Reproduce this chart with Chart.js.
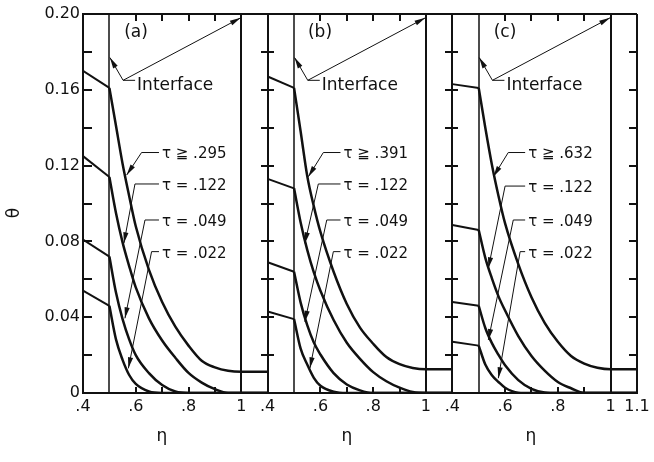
<!DOCTYPE html>
<html>
<head>
<meta charset="utf-8">
<script src="https://cdn.jsdelivr.net/npm/chart.js@4.4.1/dist/chart.umd.min.js"></script>
<style>
  html, body { margin: 0; padding: 0; background: #fff; }
</style>
</head>
<body>
<canvas id="myChart" width="654" height="462"></canvas>
<script>
// eta grid: inner region (.4 to the interface) and outer region (interface to 1.1)
const innerEta = [0.4, 0.5];
const outerEta = [0.5, 0.525, 0.55, 0.575, 0.6, 0.65, 0.7, 0.75, 0.8, 0.85, 0.9, 0.95, 1.0, 1.1];

const tauA = ['τ ≧ .295', 'τ = .122', 'τ = .049', 'τ = .022'];
const tauB = ['τ ≧ .391', 'τ = .122', 'τ = .049', 'τ = .022'];
const tauC = ['τ ≧ .632', 'τ = .122', 'τ = .049', 'τ = .022'];

// theta at eta = .4 and .5, one row per tau (steady first)
const innerA = [[0.170, 0.161], [0.125, 0.114], [0.081, 0.072], [0.054, 0.046]];
const innerB = [[0.167, 0.161], [0.113, 0.108], [0.069, 0.064], [0.043, 0.039]];
const innerC = [[0.163, 0.161], [0.0887, 0.086], [0.048, 0.046], [0.027, 0.025]];

// theta on outerEta, one row per tau
const outerA = [
  [0.161, 0.141, 0.121, 0.104, 0.088, 0.065, 0.048, 0.035, 0.025, 0.017, 0.0135, 0.0117, 0.0112, 0.0112],
  [0.114, 0.095, 0.0795, 0.067, 0.0557, 0.0394, 0.0277, 0.0186, 0.0106, 0.0055, 0.002, 0, 0, 0],
  [0.072, 0.053, 0.039, 0.0283, 0.020, 0.0105, 0.0042, 0.0008, 0, 0, 0, 0, 0, 0],
  [0.046, 0.0283, 0.0175, 0.0095, 0.0048, 0.0008, 0, 0, 0, 0, 0, 0, 0, 0],
];
const outerB = [
  [0.161, 0.138, 0.1145, 0.0985, 0.085, 0.064, 0.047, 0.0345, 0.026, 0.019, 0.0152, 0.0132, 0.0125, 0.0125],
  [0.108, 0.090, 0.0755, 0.0636, 0.054, 0.0385, 0.0265, 0.018, 0.011, 0.0062, 0.0028, 0.0005, 0, 0],
  [0.064, 0.0477, 0.0358, 0.0266, 0.0203, 0.0105, 0.0045, 0.0014, 0, 0, 0, 0, 0, 0],
  [0.039, 0.0234, 0.015, 0.008, 0.0038, 0.0007, 0, 0, 0, 0, 0, 0, 0, 0],
];
const outerC = [
  [0.161, 0.140, 0.1205, 0.104, 0.0895, 0.068, 0.0505, 0.037, 0.027, 0.0195, 0.0155, 0.0133, 0.0125, 0.0125],
  [0.086, 0.0713, 0.0605, 0.051, 0.0435, 0.030, 0.0195, 0.0118, 0.0058, 0.0025, 0, 0, 0, 0],
  [0.046, 0.0343, 0.0263, 0.0201, 0.0146, 0.0068, 0.0022, 0.0003, 0, 0, 0, 0, 0, 0],
  [0.025, 0.015, 0.0094, 0.0058, 0.0028, 0.0002, 0, 0, 0, 0, 0, 0, 0, 0],
];

const INK = '#111';
const FAMILY = '"DejaVu Sans", sans-serif';

// label leaders: [text end, elbow, arrow tip] in (eta, theta)
const panels = [
  {
    axis: 'xa', name: '(a)', tau: tauA,
    leaders: [
      [[0.688, 0.1269], [0.622, 0.1269], [0.5655, 0.115]],
      [[0.688, 0.1103], [0.597, 0.1103], [0.555, 0.079]],
      [[0.688, 0.0913], [0.635, 0.0913], [0.559, 0.0394]],
      [[0.688, 0.0746], [0.660, 0.0746], [0.572, 0.013]],
    ],
  },
  {
    axis: 'xb', name: '(b)', tau: tauB,
    leaders: [
      [[0.676, 0.1269], [0.611, 0.1269], [0.554, 0.1141]],
      [[0.676, 0.1103], [0.592, 0.1103], [0.541, 0.079]],
      [[0.676, 0.0913], [0.624, 0.0913], [0.541, 0.0376]],
      [[0.676, 0.0746], [0.649, 0.0746], [0.560, 0.013]],
    ],
  },
  {
    axis: 'xc', name: '(c)', tau: tauC,
    leaders: [
      [[0.676, 0.1269], [0.612, 0.1269], [0.5554, 0.1141]],
      [[0.676, 0.1092], [0.600, 0.1092], [0.5365, 0.0658]],
      [[0.676, 0.0913], [0.631, 0.0913], [0.5365, 0.028]],
      [[0.676, 0.0746], [0.657, 0.0746], [0.5744, 0.0078]],
    ],
  },
];

function panelSets(axis, inner, outer) {
  const sets = [];
  inner.forEach((row) => sets.push({
    xAxisID: axis,
    data: innerEta.map((e, i) => ({ x: e, y: row[i] })),
    borderWidth: 2,
    tension: 0,
  }));
  outer.forEach((row) => sets.push({
    xAxisID: axis,
    data: outerEta.map((e, i) => ({ x: e, y: row[i] })),
    borderWidth: 2.5,
    cubicInterpolationMode: 'monotone',
  }));
  return sets;
}

function etaAxis(tickValues) {
  return {
    type: 'linear',
    position: 'bottom',
    stack: 'eta',
    min: 0.4,
    max: 1.1,
    grid: { display: false, drawTicks: false },
    border: { color: INK, width: 2 },
    afterBuildTicks: (axis) => { axis.ticks = tickValues.map((v) => ({ value: v })); },
    afterFit: (axis) => { axis.height = 69; },
    ticks: {
      autoSkip: false,
      maxRotation: 0,
      padding: 4,
      color: INK,
      font: { family: FAMILY, size: 16 },
      callback: (v) => String(v).replace(/^0/, ''),
    },
  };
}

const decor = {
  id: 'decor',
  afterDatasetsDraw(chart) {
    const { ctx, chartArea: area, scales } = chart;
    const y = scales.y;
    ctx.save();
    ctx.strokeStyle = INK;
    ctx.fillStyle = INK;
    ctx.lineCap = 'butt';

    const line = (pts, w) => {
      ctx.lineWidth = w;
      ctx.beginPath();
      pts.forEach(([px, py], i) => (i ? ctx.lineTo(px, py) : ctx.moveTo(px, py)));
      ctx.stroke();
    };
    const arrowHead = ([x0, y0], [x1, y1]) => {
      const a = Math.atan2(y1 - y0, x1 - x0);
      const len = 11;
      const half = 2.6;
      const bx = x1 - len * Math.cos(a);
      const by = y1 - len * Math.sin(a);
      ctx.beginPath();
      ctx.moveTo(x1, y1);
      ctx.lineTo(bx + half * Math.sin(a), by - half * Math.cos(a));
      ctx.lineTo(bx - half * Math.sin(a), by + half * Math.cos(a));
      ctx.closePath();
      ctx.fill();
    };
    const text = (str, px, py, size, align) => {
      ctx.font = `${size}px ${FAMILY}`;
      ctx.textAlign = align;
      ctx.textBaseline = 'middle';
      ctx.fillText(str, px, py);
    };

    // top edge of the frame
    line([[area.left, area.top], [area.right, area.top]], 2);

    // theta positions of the minor ticks (skip the corners)
    const tickRows = y.ticks
      .map((tk) => tk.value)
      .filter((v) => v > 0.001 && v < 0.199)
      .map((v) => Math.round(y.getPixelForValue(v)));

    panels.forEach((p, k) => {
      const x = scales[p.axis];
      const at = ([e, t]) => [x.getPixelForValue(e), y.getPixelForValue(t)];
      const vx = (e) => Math.round(x.getPixelForValue(e));

      // panel edges, interface and eta = 1
      if (k > 0) line([[vx(0.4), area.top], [vx(0.4), area.bottom]], 2);
      line([[vx(0.5), area.top], [vx(0.5), area.bottom]], 1.5);
      line([[vx(1), area.top], [vx(1), area.bottom]], 2);
      if (k === 2) line([[vx(1.1), area.top], [vx(1.1), area.bottom]], 2);

      // theta ticks on the left edge of each panel
      tickRows.forEach((py) => {
        const lo = k === 0 ? 0 : -7;
        const hi = k === 0 ? 9 : 6;
        line([[vx(0.4) + lo, py], [vx(0.4) + hi, py]], 2);
        if (k === 2) line([[vx(1.1) - 8, py], [vx(1.1), py]], 2);
      });
      [0.6, 0.7, 0.8, 0.9].forEach((e) => {
        line([[vx(e), area.top], [vx(e), area.top + 7]], 2);
        line([[vx(e), area.bottom], [vx(e), area.bottom - 6]], 2);
      });

      // panel letter
      text(p.name, vx(0.6), y.getPixelForValue(0.19), 17, 'center');

      // interface callout with two arrows
      const bend = at([0.552, 0.165]);
      const tipIn = at([0.502, 0.177]);
      const tipOut = at([0.998, 0.198]);
      line([tipOut, bend, [bend[0] + 12, bend[1]]], 1);
      line([bend, tipIn], 1);
      arrowHead(bend, tipIn);
      arrowHead(bend, tipOut);
      text('Interface', bend[0] + 14, bend[1] + 5, 17, 'left');

      // tau callouts
      p.leaders.forEach((pts, i) => {
        const px = pts.map(at);
        line(px, 1);
        arrowHead(px[1], px[2]);
        text(p.tau[i], px[0][0] + 3, px[0][1] + 2, 15, 'left');
      });

      // eta axis title
      text('η', vx(0.7), area.bottom + 44, 17, 'center');
    });

    // theta axis title
    ctx.translate(15, y.getPixelForValue(0.095));
    ctx.rotate(-Math.PI / 2);
    text('θ', 0, 0, 17, 'center');
    ctx.restore();
  },
};

const ctx = document.getElementById('myChart').getContext('2d');
const myChart = new Chart(ctx, {
  type: 'scatter',
  data: {
    datasets: [
      ...panelSets('xa', innerA, outerA),
      ...panelSets('xb', innerB, outerB),
      ...panelSets('xc', innerC, outerC),
    ].map((d) => ({
      ...d,
      yAxisID: 'y',
      showLine: true,
      borderColor: INK,
      pointRadius: 0,
      fill: false,
    })),
  },
  options: {
    responsive: false,
    animation: false,
    devicePixelRatio: 1,
    events: [],
    layout: { padding: { left: 0, right: 17, top: 14, bottom: 0 } },
    plugins: { legend: { display: false }, tooltip: { enabled: false } },
    scales: {
      y: {
        min: 0,
        max: 0.2,
        grid: { display: false, drawTicks: false },
        border: { color: INK, width: 2 },
        afterFit: (axis) => { axis.width = 83; },
        ticks: {
          stepSize: 0.02,
          padding: 3,
          color: INK,
          font: { family: FAMILY, size: 16 },
          callback: (v, i) => {
            if (i % 2) return '';
            return i === 0 ? '0' : (i * 0.02).toFixed(2);
          },
        },
      },
      xa: etaAxis([0.4, 0.6, 0.8, 1]),
      xb: etaAxis([0.4, 0.6, 0.8, 1]),
      xc: etaAxis([0.4, 0.6, 0.8, 1, 1.1]),
    },
  },
  plugins: [decor],
});
</script>
</body>
</html>
